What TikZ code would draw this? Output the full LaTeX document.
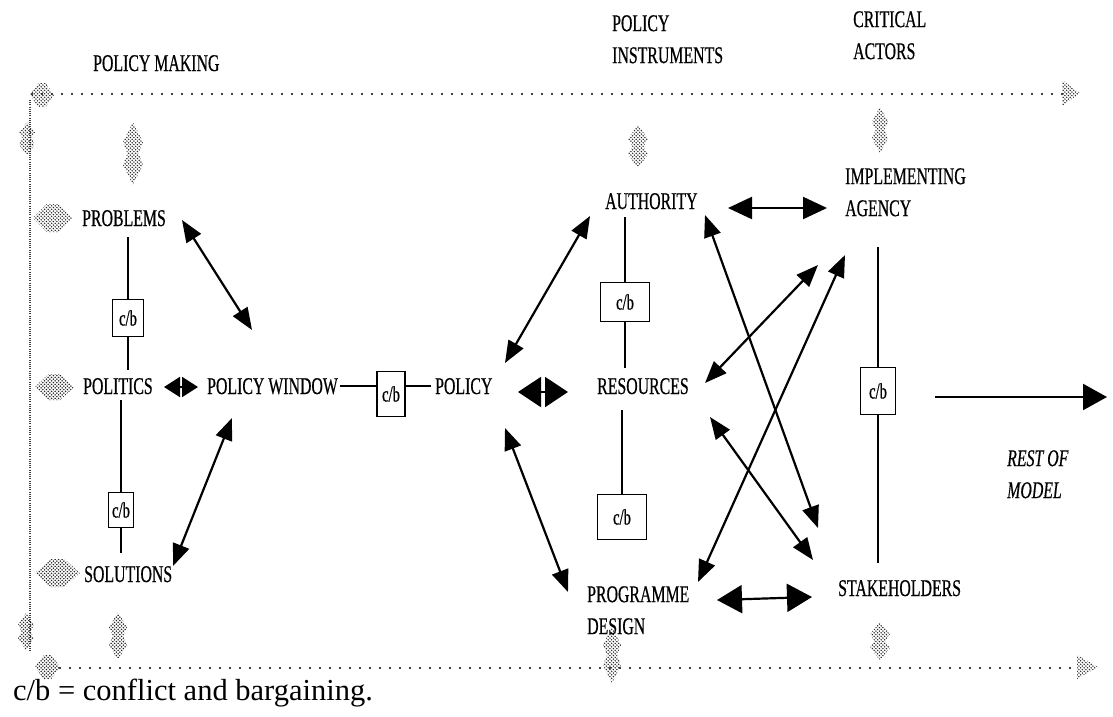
\documentclass[tikz,border=0pt]{standalone}
\usepackage{fontspec}
\setmainfont{Liberation Serif}
\newfontfamily\nf[FakeStretch=0.66,FakeBold=0.5]{Liberation Serif}
\usetikzlibrary{arrows.meta,patterns}
\pgfdeclarepatternformonly{stipdots}{\pgfqpoint{-1pt}{-1pt}}{\pgfqpoint{4.5pt}{4.5pt}}{\pgfqpoint{3.5pt}{3.5pt}}{%
  \pgfpathcircle{\pgfqpoint{0.9pt}{0.9pt}}{0.8pt}\pgfusepath{fill}%
  \pgfpathcircle{\pgfqpoint{2.65pt}{2.65pt}}{0.8pt}\pgfusepath{fill}}
\newcommand\stipV[4]{% xc, ytop, ybot, halfwidth
  \fill[stip] (#1,#2) -- ({#1+#4},{#2+(#3-#2)*0.32}) -- ({#1+#4*0.55},{(#2+#3)/2}) -- ({#1+#4},{#3-(#3-#2)*0.32}) -- (#1,#3)
    -- ({#1-#4},{#3-(#3-#2)*0.32}) -- ({#1-#4*0.55},{(#2+#3)/2}) -- ({#1-#4},{#2+(#3-#2)*0.32}) -- cycle;}
\newcommand\stipH[4]{% xl, xr, yc, halfheight
  \fill[stip] (#1,#3) -- ({#1+(#2-#1)*0.35},{#3-#4}) -- ({#2-(#2-#1)*0.35},{#3-#4}) -- (#2,#3)
    -- ({#2-(#2-#1)*0.35},{#3+#4}) -- ({#1+(#2-#1)*0.35},{#3+#4}) -- cycle;}
\begin{document}
\begin{tikzpicture}[x=1pt,y=-1pt,
  lbl/.style={font=\nf\fontsize{24}{32}\selectfont, inner sep=0pt, align=left},
  cb/.style={draw, line width=1.8pt, inner sep=0pt, font=\nf\fontsize{22}{24}\selectfont},
  ln/.style={line width=2.1pt},
  dbl/.style={line width=2.2pt, {Triangle[length=22pt,width=17pt]}-{Triangle[length=22pt,width=17pt]}},
  stip/.style={pattern=stipdots, pattern color=black!85},
  dotline/.style={line width=2.2pt, line cap=round, dash pattern=on 0pt off 10pt}]
\useasboundingbox (0,0) rectangle (1113,716);

% frame lines
\draw[dotline] (32,94) -- (1066,94);
\draw[dotline] (60,668) -- (1080,668);
\draw[draw=black!75, line width=2.6pt, dash pattern=on 1pt off 1.2pt] (30,100) -- (30,652);

% stippled arrows
\stipH{30}{54}{95}{12}
\stipV{27}{122}{155}{8}
\stipV{26}{613}{650}{8}
\stipH{35}{60}{667}{12}
\fill[stip] (1062,80) -- (1080,93) -- (1062,106) -- cycle;
\fill[stip] (1077,655) -- (1098,667) -- (1077,679) -- cycle;
\stipV{133}{122}{185}{10}
\stipV{118}{612}{660}{9}
\stipV{638}{125}{168}{10}
\stipV{612}{627}{683}{9}
\stipV{880}{107}{153}{8}
\stipV{880}{622}{660}{10}
\stipH{33}{72}{218}{14}
\stipH{35}{74}{387}{13}
\stipH{35}{80}{573}{14}

% labels
\node[lbl, anchor=base west] (pm) at (93,71) {POLICY MAKING};
\node[lbl, anchor=north west] (pi) at (612,15) {POLICY\\INSTRUMENTS};
\node[lbl, anchor=north west] (ca) at (853,11) {CRITICAL\\ACTORS};
\node[lbl, anchor=base west] (pb) at (82,226) {PROBLEMS};
\node[lbl, anchor=base west] (pol) at (83,394) {POLITICS};
\node[lbl, anchor=base west] (so) at (84,582) {SOLUTIONS};
\node[lbl, anchor=base west] (pw) at (207,394) {POLICY WINDOW};
\node[lbl, anchor=base west] (po) at (435,394) {POLICY};
\node[lbl, anchor=base west] (au) at (605,209) {AUTHORITY};
\node[lbl, anchor=base west] (re) at (597,394) {RESOURCES};
\node[lbl, anchor=north west] (pd) at (587,586) {PROGRAMME\\DESIGN};
\node[lbl, anchor=north west] (ia) at (845,168) {IMPLEMENTING\\AGENCY};
\node[lbl, anchor=base west] (sh) at (838,596) {STAKEHOLDERS};
\node[lbl, anchor=north west, font=\nf\itshape\fontsize{24}{32}\selectfont] (rm) at (1007,450) {REST OF\\MODEL};
\node[anchor=base west, inner sep=0pt, font=\fontsize{30.5}{36}\selectfont] (key) at (13,700) {c/b = conflict and bargaining.};

% c/b boxes
\node[cb, minimum width=31pt, minimum height=37pt] (cb1) at (128,318) {c/b};
\node[cb, minimum width=25pt, minimum height=35pt] (cb2) at (121,510) {c/b};
\node[cb, minimum width=28pt, minimum height=45pt] (cb3) at (391,394) {c/b};
\node[cb, minimum width=49pt, minimum height=39pt] (cb4) at (625,302) {c/b};
\node[cb, minimum width=49pt, minimum height=45pt] (cb5) at (622,517) {c/b};
\node[cb, minimum width=35pt, minimum height=47pt] (cb6) at (878,391) {c/b};

% plain connectors
\draw[ln, shorten >=11pt] (cb1.north) -- (cb1.north |- pb.south);
\draw[ln, shorten >=8pt] (cb1.south) -- (cb1.south |- pol.north);
\draw[ln, shorten >=6pt] (cb2.north) -- (cb2.north |- pol.south);
\draw[ln, shorten >=13pt] (cb2.south) -- (cb2.south |- so.north);
\draw[ln, shorten <=2pt] (pw.east) -- (pw.east -| cb3.west);
\draw[ln, shorten >=4pt] (po.west -| cb3.east) -- (po.west);
\draw[ln, shorten >=8pt] (cb4.north) -- (cb4.north |- au.south);
\draw[ln, shorten >=10pt] (cb4.south) -- (cb4.south |- re.north);
\draw[ln, shorten >=16pt] (cb5.north) -- (cb5.north |- re.south);
\coordinate (iab) at (878,247);
\draw[ln] (iab) -- (cb6.north);
\draw[ln, shorten >=17pt] (cb6.south) -- (cb6.south |- sh.north);

% arrow end points
\coordinate (a1s) at (182,220); \coordinate (a1e) at (252,330);
\coordinate (a2s) at (164,387); \coordinate (a2e) at (198,387);
\coordinate (a3s) at (232,418); \coordinate (a3e) at (173,566);
\coordinate (a4s) at (505,363); \coordinate (a4e) at (590,216);
\coordinate (a5s) at (505,428); \coordinate (a5e) at (568,592);
\coordinate (a6s) at (518,392); \coordinate (a6e) at (568,392);
\coordinate (a7s) at (728,208); \coordinate (a7e) at (827,208);
\coordinate (a8s) at (705,215); \coordinate (a8e) at (818,528);
\coordinate (a9s) at (710,417); \coordinate (a9e) at (813,560);
\coordinate (a10s) at (705,383); \coordinate (a10e) at (818,265);
\coordinate (a11s) at (698,582); \coordinate (a11e) at (845,255);
\coordinate (a12s) at (717,600); \coordinate (a12e) at (812,597);
\coordinate (rs) at (935,397); \coordinate (re2) at (1107,397);

\draw[dbl] (a1s) -- (a1e);
\draw[line width=2pt, {Triangle[length=16pt,width=20pt]}-{Triangle[length=16pt,width=20pt]}] (a2s) -- (a2e);
\draw[dbl] (a3s) -- (a3e);
\draw[dbl] (a4s) -- (a4e);
\draw[dbl] (a5s) -- (a5e);
\draw[line width=2pt, {Triangle[length=23pt,width=30pt]}-{Triangle[length=23pt,width=30pt]}] (a6s) -- (a6e);
\draw[line width=2.2pt, {Triangle[length=24pt,width=22pt]}-{Triangle[length=24pt,width=22pt]}] (a7s) -- (a7e);
\draw[dbl] (a8s) -- (a8e);
\draw[dbl] (a9s) -- (a9e);
\draw[dbl] (a10s) -- (a10e);
\draw[dbl] (a11s) -- (a11e);
\draw[line width=2.2pt, {Triangle[length=25pt,width=28pt]}-{Triangle[length=25pt,width=28pt]}] (a12s) -- (a12e);
\draw[line width=2.2pt, -{Triangle[length=24pt,width=26pt]}] (rs) -- (re2);
\end{tikzpicture}
\end{document}
